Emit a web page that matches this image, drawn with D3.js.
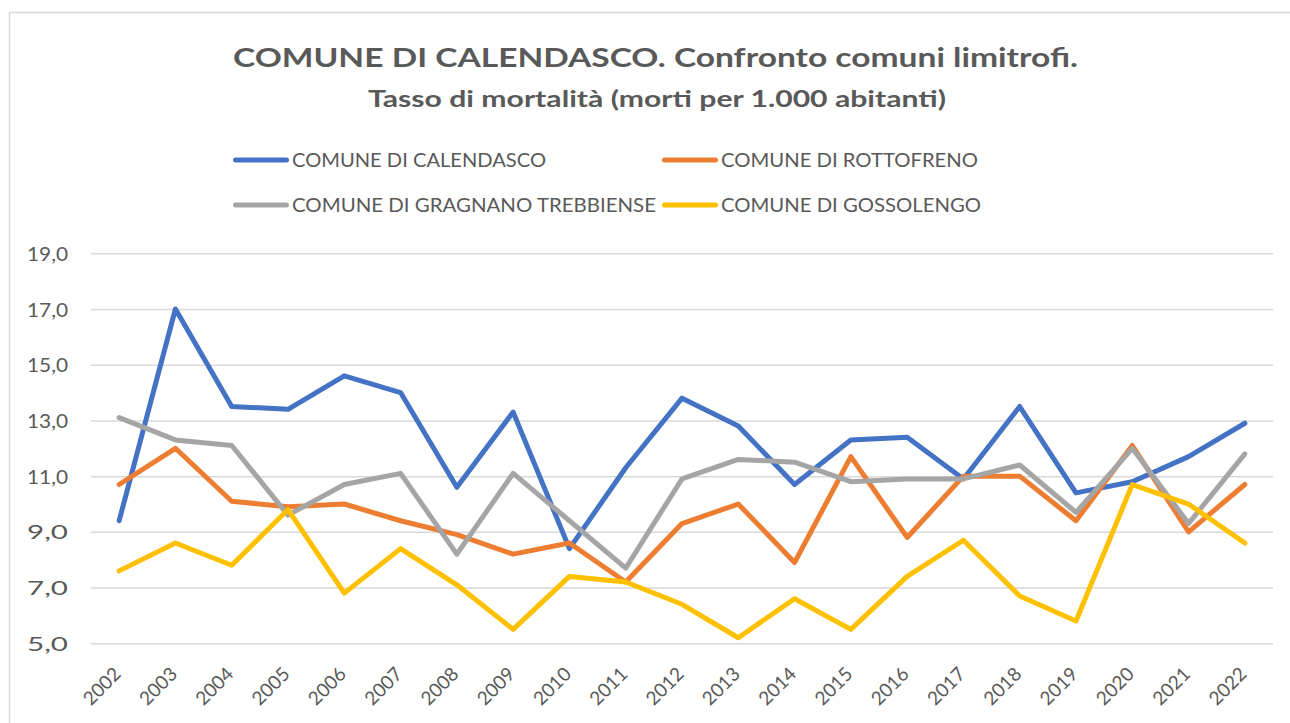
<!DOCTYPE html>
<html>
<head>
<meta charset="utf-8">
<script src="https://cdn.jsdelivr.net/npm/d3@7"></script>
<style>
  html, body { margin: 0; padding: 0; background: #fff; }
  svg { display: block; }
  text { font-family: Lato, "Open Sans", sans-serif; fill: #595959; }
</style>
</head>
<body>
<script>
// Mortality rate (deaths per 1,000 inhabitants), 2002–2022
const years = ["2002","2003","2004","2005","2006","2007","2008","2009","2010","2011",
               "2012","2013","2014","2015","2016","2017","2018","2019","2020","2021","2022"];
const calendasco = [9.4,17.0,13.5,13.4,14.6,14.0,10.6,13.3,8.4,11.3,13.8,12.8,10.7,12.3,12.4,10.9,13.5,10.4,10.8,11.7,12.9];
const rottofreno = [10.7,12.0,10.1,9.9,10.0,9.4,8.9,8.2,8.6,7.2,9.3,10.0,7.9,11.7,8.8,11.0,11.0,9.4,12.1,9.0,10.7];
const gragnano   = [13.1,12.3,12.1,9.6,10.7,11.1,8.2,11.1,9.4,7.7,10.9,11.6,11.5,10.8,10.9,10.9,11.4,9.7,12.0,9.3,11.8];
const gossolengo = [7.6,8.6,7.8,9.8,6.8,8.4,7.1,5.5,7.4,7.2,6.4,5.2,6.6,5.5,7.4,8.7,6.7,5.8,10.7,10.0,8.6];
const seriesNames = ["COMUNE DI CALENDASCO","COMUNE DI ROTTOFRENO","COMUNE DI GRAGNANO TREBBIENSE","COMUNE DI GOSSOLENGO"];
const seriesColors = ["#4472c4","#ed7d31","#a5a5a5","#ffc000"];
const yTicks = [5,7,9,11,13,15,17,19];

const titleText = "COMUNE DI CALENDASCO. Confronto comuni limitrofi.";
const subtitleText = "Tasso di mortalità (morti per 1.000 abitanti)";

const series = [calendasco, rottofreno, gragnano, gossolengo].map((values, i) => ({
  name: seriesNames[i], color: seriesColors[i], values
}));

const W = 1290, H = 723;
const svg = d3.select("body").append("svg").attr("width", W).attr("height", H);

// chart frame
svg.append("rect")
  .attr("x", 9.5).attr("y", 12.5).attr("width", W + 10).attr("height", H + 10)
  .attr("fill", "#fff").attr("stroke", "#d9d9d9").attr("stroke-width", 1.5);

const plot = { left: 91, right: 1273, top: 253.3, bottom: 643.3 };

const x = d3.scaleBand().domain(years).range([plot.left, plot.right]);
const y = d3.scaleLinear().domain([5, 19]).range([plot.bottom, plot.top]);

// titles
function fitText(sel, width) {
  sel.attr("textLength", width).attr("lengthAdjust", "spacingAndGlyphs");
}
svg.append("text").attr("x", 655.5).attr("y", 67).attr("text-anchor", "middle")
  .attr("font-size", 26.5).attr("font-weight", "bold").text(titleText)
  .call(fitText, 845);
svg.append("text").attr("x", 657).attr("y", 107).attr("text-anchor", "middle")
  .attr("font-size", 22.5).attr("font-weight", "bold").text(subtitleText)
  .call(fitText, 578);

// legend
const legendPos = [
  { lx: 233, ty: 160, tw: 254 },
  { lx: 662, ty: 160, tw: 257 },
  { lx: 233, ty: 205, tw: 364 },
  { lx: 662, ty: 205, tw: 260 }
];
const legend = svg.append("g");
series.forEach((s, i) => {
  const p = legendPos[i];
  legend.append("line")
    .attr("x1", p.lx + 2.5).attr("x2", p.lx + 53.5).attr("y1", p.ty).attr("y2", p.ty)
    .attr("stroke", s.color).attr("stroke-width", 5).attr("stroke-linecap", "round");
  legend.append("text").attr("x", p.lx + 59).attr("y", p.ty + 6.7)
    .attr("font-size", 19).text(s.name).call(fitText, p.tw);
});

// gridlines + y axis labels
const yAxis = d3.axisLeft(y).tickValues(yTicks)
  .tickSize(-(plot.right - plot.left))
  .tickFormat(d => d3.format(".1f")(d).replace(".", ","));
const gy = svg.append("g").attr("transform", `translate(${plot.left},0)`).call(yAxis);
gy.select(".domain").remove();
gy.selectAll(".tick line").attr("stroke", "#d9d9d9").attr("stroke-width", 1.5);
gy.selectAll(".tick text").attr("x", -23).attr("dy", "0.36em")
  .attr("font-size", 19.5).attr("fill", "#595959")
  .style("font-family", "Lato, sans-serif")
  .call(fitText, 41);

// x axis labels, rotated
const xAxis = d3.axisBottom(x).tickSize(0).tickPadding(0);
const gx = svg.append("g").attr("transform", `translate(0,${plot.bottom})`).call(xAxis);
gx.select(".domain").remove();
gx.selectAll(".tick text")
  .attr("text-anchor", "end")
  .attr("font-size", 19).attr("fill", "#595959")
  .style("font-family", "Lato, sans-serif")
  .attr("x", 0).attr("y", 0).attr("dy", 0)
  .attr("transform", "translate(3,32) rotate(-45)");

// series lines
const line = d3.line()
  .x((d, i) => x(years[i]) + x.bandwidth() / 2)
  .y(d => y(d));

svg.append("g").selectAll("path").data(series).join("path")
  .attr("d", d => line(d.values))
  .attr("fill", "none")
  .attr("stroke", d => d.color)
  .attr("stroke-width", 5)
  .attr("stroke-linejoin", "round")
  .attr("stroke-linecap", "round");
</script>
</body>
</html>
